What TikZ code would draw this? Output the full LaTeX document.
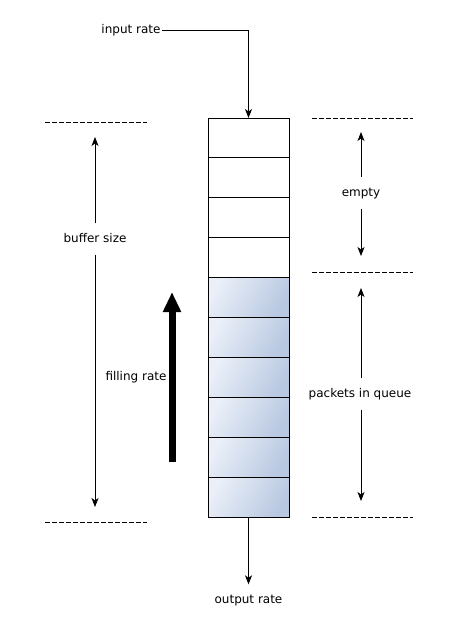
\documentclass[tikz,border=0pt]{standalone}
\usepackage{fontspec}
\setmainfont{DejaVu Sans}
\usetikzlibrary{arrows.meta}
\definecolor{cellL}{HTML}{EAEFF8}
\definecolor{cellR}{HTML}{B8C8E1}

\begin{document}
\begin{tikzpicture}[x=1pt,y=-1pt,>={Stealth[length=9pt,width=7pt,inset=2.5pt]},
  font=\fontsize{12}{14}\selectfont,
  cell/.style={draw,line width=0.9pt,minimum width=81pt,minimum height=39.9pt,inner sep=0pt,outer sep=0pt},
  full/.style={cell,left color=cellL,right color=cellR,shading angle=60},
  lbl/.style={text height=9pt,text depth=3pt,inner xsep=1.5pt,inner ysep=9.5pt},
  level/.style={dash pattern=on 4.5pt off 2.5pt,line width=0.8pt}]
\useasboundingbox (0,0) rectangle (459,625);

% {the buffer}
\foreach \i in {1,...,4}
  \node[cell] (c\i) at (248.5,{118+39.9*(\i-0.5)}) {};
\foreach \i in {5,...,10}
  \node[full] (c\i) at (248.5,{118+39.9*(\i-0.5)}) {};

% {rates}
\node[lbl] (inp) at (131,30) {input rate};
\node[lbl] (outp) at (248.5,600) {output rate};
\draw[->,line width=0.8pt] (inp.east) -| (c1.north);
\draw[->,line width=0.8pt] (c10.south) -- (outp.north);

\node[lbl] (fill) at (136,377) {filling rate};
\coordinate (fillB) at (172,462);
\coordinate (fillT) at (172,292);
\draw[line width=7pt,-{Triangle[length=20pt,width=17pt]}] (fillB) -- (fillT);

% {levels}
\draw[level] (45,122) -- (147,122);
\draw[level] (45,522) -- (147,522);
\foreach \y in {118,272,517}
  \draw[level] (312,\y) -- (413,\y);

% {sizes}
\node[lbl] (bsize) at (95,239) {buffer size};
\coordinate (bsT) at (95,137);
\coordinate (bsB) at (95,507);
\draw[->,line width=0.8pt] (bsize) -- (bsT);
\draw[->,line width=0.8pt] (bsize) -- (bsB);

\node[lbl] (empty) at (361,193) {empty};
\coordinate (emT) at (361,132);
\coordinate (emB) at (361,256);
\draw[->,line width=0.8pt] (empty) -- (emT);
\draw[->,line width=0.8pt] (empty) -- (emB);

\node[lbl] (queue) at (360,394) {packets in queue};
\coordinate (qT) at (361,288);
\coordinate (qB) at (361,501);
\draw[->,line width=0.8pt] (queue.north -| qT) -- (qT);
\draw[->,line width=0.8pt] (queue.south -| qB) -- (qB);
\end{tikzpicture}
\end{document}
